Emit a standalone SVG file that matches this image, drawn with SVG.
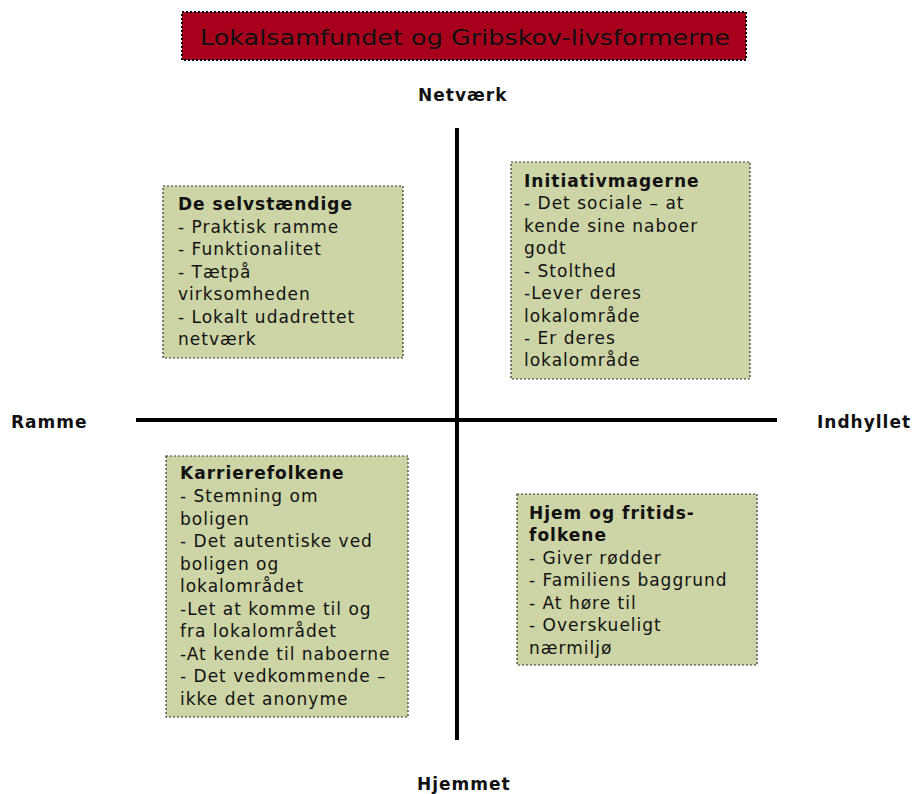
<svg xmlns="http://www.w3.org/2000/svg" width="913" height="794" viewBox="0 0 913 794">
<style>
.box{fill:#cdd5a6;stroke:#333;stroke-width:1.2;stroke-dasharray:2 2}
.t{font-family:"DejaVu Sans",Verdana,sans-serif;font-size:17px;letter-spacing:1px;fill:#111}
.b{font-weight:bold}
.ax{stroke:#000;stroke-width:4}
</style>
<rect width="913" height="794" fill="#fff"/>
<g id="title">
<rect x="182" y="12" width="564" height="48" fill="#a8001c" stroke="#000" stroke-width="2" stroke-dasharray="2 2"/>
<text x="200" y="45" font-family="DejaVu Sans,Verdana,sans-serif" font-size="22" fill="#111" textLength="530" lengthAdjust="spacingAndGlyphs">Lokalsamfundet og Gribskov-livsformerne</text>
</g>
<g id="connectors">
<line class="ax" x1="457" y1="128" x2="457" y2="740"/>
<line class="ax" x1="136" y1="420" x2="777" y2="420"/>
</g>
<g id="label-netvaerk"><text class="t b" x="418" y="101">Netværk</text></g>
<g id="label-ramme"><text class="t b" x="11" y="428">Ramme</text></g>
<g id="label-indhyllet"><text class="t b" x="817" y="428">Indhyllet</text></g>
<g id="label-hjemmet"><text class="t b" x="417" y="790">Hjemmet</text></g>
<g id="selvstaendige">
<rect class="box" x="163" y="186" width="240" height="172"/>
<text class="t"><tspan class="b" x="178" y="210">De selvstændige</tspan><tspan x="178" y="233">- Praktisk ramme</tspan><tspan x="178" y="255">- Funktionalitet</tspan><tspan x="178" y="278">- Tætpå</tspan><tspan x="178" y="300">virksomheden</tspan><tspan x="178" y="323">- Lokalt udadrettet</tspan><tspan x="178" y="345">netværk</tspan></text>
</g>
<g id="initiativmagerne">
<rect class="box" x="511" y="162" width="239" height="217"/>
<text class="t"><tspan class="b" x="524" y="187">Initiativmagerne</tspan><tspan x="524" y="209">- Det sociale – at</tspan><tspan x="524" y="232">kende sine naboer</tspan><tspan x="524" y="254">godt</tspan><tspan x="524" y="277">- Stolthed</tspan><tspan x="524" y="299">-Lever deres</tspan><tspan x="524" y="322">lokalområde</tspan><tspan x="524" y="344">- Er deres</tspan><tspan x="524" y="366">lokalområde</tspan></text>
</g>
<g id="karrierefolkene">
<rect class="box" x="166" y="456" width="242" height="261"/>
<text class="t"><tspan class="b" x="180" y="479">Karrierefolkene</tspan><tspan x="180" y="502">- Stemning om</tspan><tspan x="180" y="525">boligen</tspan><tspan x="180" y="547">- Det autentiske ved</tspan><tspan x="180" y="570">boligen og</tspan><tspan x="180" y="592">lokalområdet</tspan><tspan x="180" y="615">-Let at komme til og</tspan><tspan x="180" y="637">fra lokalområdet</tspan><tspan x="180" y="660">-At kende til naboerne</tspan><tspan x="180" y="682">- Det vedkommende –</tspan><tspan x="180" y="705">ikke det anonyme</tspan></text>
</g>
<g id="hjem-fritid">
<rect class="box" x="517" y="494" width="240" height="171"/>
<text class="t"><tspan class="b" x="529" y="519">Hjem og fritids-</tspan><tspan class="b" x="529" y="541">folkene</tspan><tspan x="529" y="564">- Giver rødder</tspan><tspan x="529" y="586">- Familiens baggrund</tspan><tspan x="529" y="609">- At høre til</tspan><tspan x="529" y="631">- Overskueligt</tspan><tspan x="529" y="654">nærmiljø</tspan></text>
</g>
</svg>
